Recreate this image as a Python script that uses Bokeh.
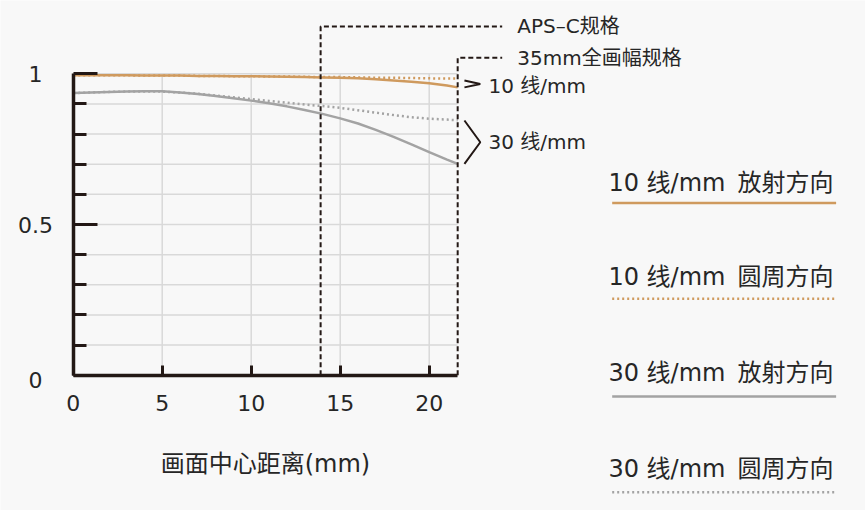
from bokeh.plotting import figure
from bokeh.models import Range1d, LinearAxis, FixedTicker
from bokeh.core.properties import value
from bokeh.embed import file_html
from bokeh.resources import INLINE

# ---------------- data ----------------
distance_mm = [0, 1, 2, 3, 4, 5, 6, 7, 8, 9, 10, 11, 12, 13, 14, 15, 16, 17, 18, 19, 20, 21, 21.6]
mtf10_radial = [0.995, 0.995, 0.995, 0.995, 0.994, 0.994, 0.994, 0.993, 0.993, 0.992, 0.992, 0.991,
                0.990, 0.989, 0.988, 0.987, 0.985, 0.982, 0.978, 0.974, 0.969, 0.961, 0.955]
mtf10_sagittal = [0.995, 0.995, 0.995, 0.995, 0.994, 0.994, 0.994, 0.993, 0.993, 0.992, 0.992, 0.991,
                  0.991, 0.990, 0.989, 0.989, 0.988, 0.987, 0.987, 0.986, 0.985, 0.984, 0.984]
mtf30_radial = [0.936, 0.938, 0.940, 0.941, 0.942, 0.942, 0.938, 0.933, 0.926, 0.919, 0.911, 0.902,
                0.892, 0.880, 0.867, 0.852, 0.835, 0.814, 0.791, 0.766, 0.740, 0.715, 0.701]
mtf30_sagittal = [0.936, 0.938, 0.940, 0.941, 0.941, 0.941, 0.938, 0.934, 0.928, 0.922, 0.916, 0.910,
                  0.904, 0.898, 0.893, 0.887, 0.879, 0.871, 0.863, 0.856, 0.851, 0.848, 0.846]

aps_c_edge = 13.9
full_frame_edge = 21.6

x_ticks = [0, 5, 10, 15, 20]
y_ticks = [0, 0.5, 1]
y_tick_labels = ["0", "0.5", "1"]
y_minor = [0.1, 0.2, 0.3, 0.4, 0.6, 0.7, 0.8, 0.9]
y_grid = [0.1, 0.2, 0.3, 0.4, 0.5, 0.6, 0.7, 0.8, 0.9, 1.0]
x_grid = [5, 10, 15, 20]

x_title = "画面中心距离(mm)"
aps_label = "APS–C规格"
ff_label = "35mm全画幅规格"
group_labels = ["10 线/mm", "30 线/mm"]
legend_labels = ["10 线/mm\u2002放射方向", "10 线/mm\u2002圆周方向",
                 "30 线/mm\u2002放射方向", "30 线/mm\u2002圆周方向"]

# ---------------- styles ----------------
BG = "#f8f8f8"
INK = "#231815"
TXT = "#262626"
ORANGE = "#cf9a5e"
GRAY = "#a3a3a3"
GRID = "#d9d9d9"
FONT = "DejaVu Sans, Noto Sans CJK SC"

W, H = 865, 510
PX_X, PX_Y = 17.8, 301.4          # pixels per data unit
ORIGIN_X, ORIGIN_Y = 72.7, 374.7  # pixel position of data origin

p = figure(width=W, height=H, output_backend="svg", toolbar_location=None,
           x_axis_type=None, y_axis_type=None,
           x_range=Range1d(-ORIGIN_X / PX_X, (W - ORIGIN_X) / PX_X),
           y_range=Range1d(-(H - ORIGIN_Y) / PX_Y, ORIGIN_Y / PX_Y),
           background_fill_color=BG, border_fill_color=BG, outline_line_color=None,
           min_border=0)

# grid
p.segment(x0=[0] * len(y_grid), x1=[full_frame_edge] * len(y_grid), y0=y_grid, y1=y_grid,
          line_color=GRID, line_width=1.5)
p.segment(x0=x_grid, x1=x_grid, y0=[0] * len(x_grid), y1=[1] * len(x_grid),
          line_color=GRID, line_width=1.5)

# axes
yax = LinearAxis(fixed_location=0, bounds=(0, 1),
                 ticker=FixedTicker(ticks=y_ticks, minor_ticks=y_minor))
yax.axis_line_color = INK
yax.axis_line_width = 3.5
yax.major_tick_line_color = INK
yax.major_tick_line_width = 3
yax.minor_tick_line_color = INK
yax.minor_tick_line_width = 3
yax.major_tick_in = 24
yax.major_tick_out = 0
yax.minor_tick_in = 13
yax.minor_tick_out = 0
yax.major_label_overrides = {t: "" for t in y_ticks}
p.add_layout(yax, "left")
# y tick labels, centred left of the axis' tick positions
p.text(x=[-2.12] * len(y_ticks), y=[t - 0.015 if t == 0 else t for t in y_ticks], text=y_tick_labels,
       text_font=value(FONT), text_font_size="22px", text_color=TXT,
       text_baseline="middle", text_align="center")

xax = LinearAxis(fixed_location=0, bounds=(0, full_frame_edge),
                 ticker=FixedTicker(ticks=x_ticks, minor_ticks=[]))
xax.axis_line_color = INK
xax.axis_line_width = 3.5
xax.major_tick_line_color = INK
xax.major_tick_line_width = 3
xax.major_tick_in = 10
xax.major_tick_out = 0
xax.major_label_standoff = 20
xax.major_label_text_font = FONT
xax.major_label_text_font_size = "22px"
xax.major_label_text_color = TXT
p.add_layout(xax, "below")

# curves
p.line(distance_mm, mtf30_sagittal, line_color=GRAY, line_width=2.5, line_dash="2 3")
p.line(distance_mm, mtf30_radial, line_color=GRAY, line_width=2.5)
p.line(distance_mm, mtf10_sagittal, line_color=ORANGE, line_width=2.5, line_dash="2 3")
p.line(distance_mm, mtf10_radial, line_color=ORANGE, line_width=2.5)

# format boundary annotations
aps_top, ff_top, ann_right = 1.157, 1.053, 24.1
p.line([aps_c_edge, aps_c_edge, ann_right], [0, aps_top, aps_top],
       line_color=INK, line_width=2, line_dash="5 3")
p.line([full_frame_edge, full_frame_edge, ann_right], [0, ff_top, ff_top],
       line_color=INK, line_width=2, line_dash="5 3")
p.text(x=[24.95, 24.95], y=[aps_top, ff_top], text=[aps_label, ff_label],
       text_font=value(FONT), text_font_size="20px", text_color=TXT,
       text_baseline="middle", text_align="left")

# group brackets
bx0, bx1 = 21.98, 22.87
p.line([bx0, bx1, bx0], [0.978, 0.966, 0.955], line_color=INK, line_width=2)
p.line([bx0, bx1, bx0], [0.845, 0.773, 0.701], line_color=INK, line_width=2)
p.text(x=[23.33, 23.33], y=[0.958, 0.773], text=group_labels,
       text_font=value(FONT), text_font_size="20px", text_color=TXT,
       text_baseline="middle", text_align="left")

# axis title
p.text(x=[full_frame_edge / 2], y=[-0.293], text=[x_title],
       text_font=value(FONT), text_font_size="24px", text_color=TXT,
       text_baseline="middle", text_align="center")

# legend (label above sample line)
leg_text_y = [0.639, 0.325, 0.006, -0.310]
leg_line_y = [0.571, 0.254, -0.071, -0.388]
leg_x0, leg_x1, leg_tx = 30.28, 42.86, 30.07
p.text(x=[leg_tx] * 4, y=leg_text_y, text=legend_labels,
       text_font=value(FONT), text_font_size="24px", text_color=TXT,
       text_baseline="middle", text_align="left")
styles = [(ORANGE, None), (ORANGE, "2 3"), (GRAY, None), (GRAY, "2 3")]
for (col, dash), ly in zip(styles, leg_line_y):
    kw = dict(line_color=col, line_width=2.5)
    if dash:
        kw["line_dash"] = dash
    p.line([leg_x0, leg_x1], [ly, ly], **kw)

open("out.html", "w").write(file_html(p, INLINE))
